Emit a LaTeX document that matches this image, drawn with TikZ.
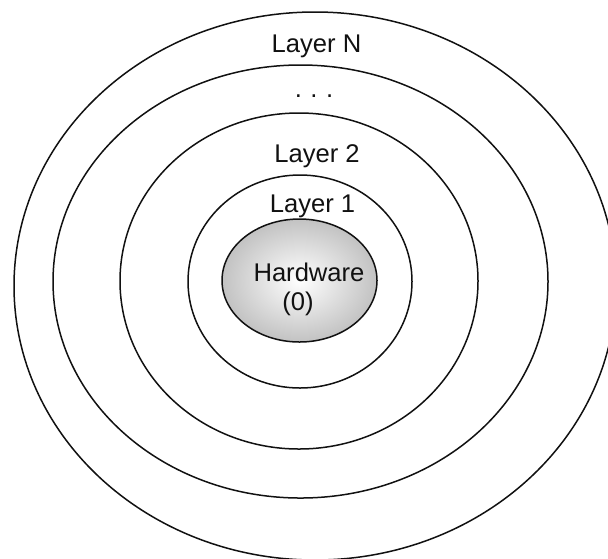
\documentclass[tikz,border=0pt]{standalone}
\usepackage{fontspec}
\setmainfont{Liberation Sans}
\usepackage{xcolor}
\usepackage{tikz}
\usetikzlibrary{positioning}
\definecolor{ink}{HTML}{111111}
\definecolor{core}{HTML}{C2C2C2}

\begin{document}
\begin{tikzpicture}[x=0.5pt,y=-0.5pt,
  ring/.style={line width=0.75pt,draw=ink},
  tag/.style={anchor=base,inner sep=0pt,text=ink,font=\fontsize{12.8}{15}\selectfont}]
\useasboundingbox (0,0) rectangle (608,558);
\clip (0,0) rectangle (608,558);
% rings, outside in
\draw[ring] (315,286) ellipse [x radius=301, y radius=274];
\draw[ring] (300.5,281.5) ellipse [x radius=247.5, y radius=216.5];
\draw[ring] (299,281) ellipse [x radius=179, y radius=168];
\draw[ring] (300,281.5) ellipse [x radius=112, y radius=106.5];
% core
\shade[ring,inner color=white,outer color=core] (299.5,280.5) ellipse [x radius=77.5, y radius=61.5];
% labels
\node[tag] (lyrN) at (316.5,52) {Layer N};
\node[tag] (dots) at (314,97.5) {.\,\,.\,\,.};
\node[tag] (lyr2) at (317,162.3) {Layer 2};
\node[tag] (lyr1) at (312.5,212.7) {Layer 1};
\node[tag] (hw) at (309,281.7) {Hardware};
\node[tag] (zero) at (298,310) {(0)};
\end{tikzpicture}
\end{document}
